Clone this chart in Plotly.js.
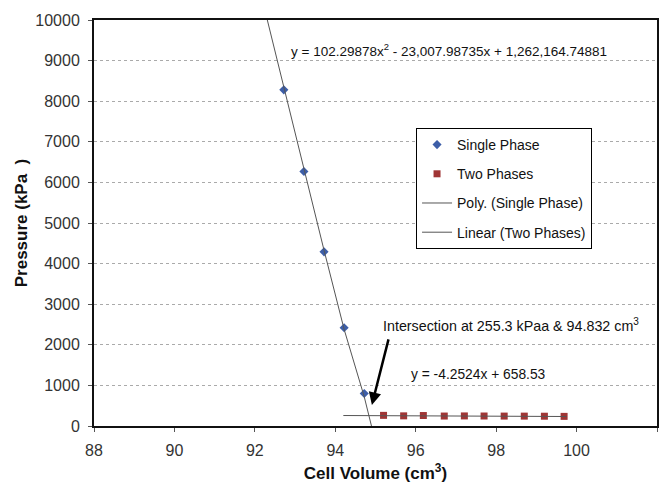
<!DOCTYPE html>
<html><head><meta charset="utf-8">
<script src="https://cdn.plot.ly/plotly-3.0.1.min.js"></script>
<style>html,body{margin:0;padding:0;background:#fff;}#chart{width:669px;height:483px;}</style>
</head><body><div id="chart"></div>
<script>
// Single phase measurements
const singleX = [92.72, 93.22, 93.72, 94.22, 94.72];
const singleY = [8280, 6270, 4290, 2420, 800];
// Two phase measurements
const twoX = [95.20, 95.70, 96.19, 96.71, 97.21, 97.70, 98.20, 98.70, 99.20, 99.69];
const twoY = [262, 250, 258, 245, 248, 246, 244, 243, 241, 237];
// Polynomial trendline (single phase)
const polyX = [92.31, 92.72, 93.22, 93.72, 94.22, 94.72, 94.90];
const polyY = [10000, 8330, 6300, 4330, 2380, 720, 0];
// Linear trendline (two phases)
const linX = [94.2, 99.75];
const linY = [258, 234];
const xTicks = [88, 90, 92, 94, 96, 98, 100, 102];
const yTicks = [0, 1000, 2000, 3000, 4000, 5000, 6000, 7000, 8000, 9000, 10000];
const yTickText = ['0', '1000', '2000', '3000', '4000', '5000', '6000', '7000', '8000', '9000', '10000'];

const font = 'Liberation Sans, Arial, sans-serif';
const traces = [
  {x: singleX, y: singleY, type: 'scatter', mode: 'markers', name: 'Single Phase', legendgroup: 'a',
   marker: {symbol: 'diamond', size: 7, color: '#3d5ea8'}},
  {x: twoX, y: twoY, type: 'scatter', mode: 'markers', name: 'Two Phases', legendgroup: 'b',
   marker: {symbol: 'square', size: 7, color: '#a03535'}},
  {x: polyX, y: polyY, type: 'scatter', mode: 'lines', name: 'Poly. (Single Phase)', legendgroup: 'c',
   line: {color: '#555', width: 1}},
  {x: linX, y: linY, type: 'scatter', mode: 'lines', name: 'Linear (Two Phases)', legendgroup: 'd',
   line: {color: '#555', width: 1}}
];
const layout = {
  width: 669, height: 483,
  margin: {l: 94, r: 12, t: 20, b: 57},
  paper_bgcolor: '#fff', plot_bgcolor: '#fff',
  font: {family: font, size: 13, color: '#333'},
  showlegend: true,
  legend: {x: 0.572, y: 0.734, xanchor: 'left', yanchor: 'top', bgcolor: '#fff',
           bordercolor: '#000', borderwidth: 1, font: {size: 14, color: '#111'},
           traceorder: 'grouped', tracegroupgap: 8},
  xaxis: {range: [88, 102], tickvals: xTicks, ticks: 'outside', ticklen: 4, tickcolor: '#555',
          ticklabelstandoff: 5,
          showgrid: false, zeroline: false, showline: true, linecolor: '#111', linewidth: 2, mirror: true,
          tickfont: {size: 16, color: '#333'},
          title: {text: '<b>Cell Volume (cm<sup>3</sup>)</b>', font: {size: 17, color: '#111'}, standoff: 9}},
  yaxis: {range: [0, 10000], tickvals: yTicks, ticktext: yTickText, ticks: 'outside', ticklen: 4, tickcolor: '#555',
          ticklabelstandoff: 5,
          showgrid: true, gridcolor: '#aaa', griddash: 'dot', gridwidth: 1, zeroline: false,
          showline: true, linecolor: '#111', linewidth: 2, mirror: true,
          tickfont: {size: 16, color: '#333'},
          title: {text: '<b>Pressure (kPa\u00a0\u00a0)</b>', font: {size: 17, color: '#111'}, standoff: 3}},
  annotations: [
    {xref: 'paper', yref: 'paper', x: (289 - 94) / 563, y: (426 - 50) / 406, xanchor: 'left', yanchor: 'middle',
     text: 'y = 102.29878x<sup>2</sup> - 23,007.98735x + 1,262,164.74881', showarrow: false,
     font: {size: 13.5, color: '#111'}},
    {xref: 'paper', yref: 'paper', x: (381 - 94) / 563, y: (426 - 325) / 406, xanchor: 'left', yanchor: 'middle',
     text: 'Intersection at 255.3 kPaa &amp; 94.832 cm<sup>3</sup>', showarrow: false,
     font: {size: 14.3, color: '#111'}},
    {xref: 'paper', yref: 'paper', x: (409 - 94) / 563, y: (426 - 374) / 406, xanchor: 'left', yanchor: 'middle',
     text: 'y = -4.2524x + 658.53', showarrow: false, font: {size: 13.8, color: '#111'}},
    {x: 94.91, y: 520, xref: 'x', yref: 'y', text: '', showarrow: true, arrowhead: 2, arrowsize: 1,
     arrowwidth: 2.5, arrowcolor: '#000', ax: 17, ay: -67, standoff: 0}
  ]
};
Plotly.newPlot('chart', traces, layout, {displayModeBar: false, staticPlot: true});
</script></body></html>
